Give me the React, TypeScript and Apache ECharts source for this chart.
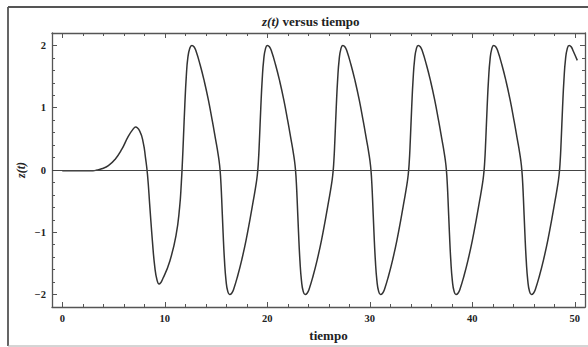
import React, { useEffect, useRef } from "react";
import * as echarts from "echarts";

// Time values (tiempo)
const tiempo: number[] = [
  0, 3.0, 3.4, 3.85, 4.5, 5.15, 5.8, 6.44, 6.93, 7.15, 7.57, 7.9, 8.12, 8.32, 8.55, 8.8, 9.03, 9.25, 9.45, 9.85,
  10.5, 11.1, 11.45, 11.62, 11.72, 11.82, 11.96, 12.1, 12.25, 12.45,
  12.65, 12.85, 13.05, 13.45, 13.85, 14.25, 14.65, 14.95, 15.2, 15.35, 15.45, 15.55, 15.69, 15.83, 15.98, 16.15,
  16.33, 16.53, 16.73, 17.13, 17.53, 17.93, 18.33, 18.63, 18.88, 19.03, 19.13, 19.23, 19.37, 19.51, 19.66, 19.83,
  20.01, 20.21, 20.41, 20.81, 21.21, 21.61, 22.01, 22.31, 22.56, 22.71, 22.81, 22.91, 23.05, 23.19, 23.34, 23.51,
  23.69, 23.89, 24.09, 24.49, 24.89, 25.29, 25.69, 25.99, 26.24, 26.39, 26.49, 26.59, 26.73, 26.87, 27.02, 27.19,
  27.37, 27.57, 27.77, 28.17, 28.57, 28.97, 29.37, 29.67, 29.92, 30.07, 30.17, 30.27, 30.41, 30.55, 30.7, 30.87,
  31.05, 31.25, 31.45, 31.85, 32.25, 32.65, 33.05, 33.35, 33.6, 33.75, 33.85, 33.95, 34.09, 34.23, 34.38, 34.55,
  34.73, 34.93, 35.13, 35.53, 35.93, 36.33, 36.73, 37.03, 37.28, 37.43, 37.53, 37.63, 37.77, 37.91, 38.06, 38.23,
  38.41, 38.61, 38.81, 39.21, 39.61, 40.01, 40.41, 40.71, 40.96, 41.11, 41.21, 41.31, 41.45, 41.59, 41.74, 41.91,
  42.09, 42.29, 42.49, 42.89, 43.29, 43.69, 44.09, 44.39, 44.64, 44.79, 44.89, 44.99, 45.13, 45.27, 45.42, 45.59,
  45.77, 45.97, 46.17, 46.57, 46.97, 47.37, 47.77, 48.07, 48.32, 48.47, 48.57, 48.67, 48.81, 48.95, 49.1, 49.27,
  49.45, 49.65, 49.85, 50.25,
];

// z(t) values
const zValores: number[] = [
  -0.012, -0.012, 0, 0.02, 0.07, 0.17, 0.33, 0.54, 0.66, 0.69, 0.62, 0.44, 0.2, -0.08, -0.6, -1.15, -1.56, -1.77, -1.83, -1.73,
  -1.46, -1.05, -0.6, -0.2, 0.12, 0.5, 1.05, 1.5, 1.8, 1.96,
  2.0, 1.98, 1.91, 1.69, 1.43, 1.13, 0.78, 0.5, 0.26, 0.08, -0.12, -0.45, -1.0, -1.46, -1.78, -1.95,
  -2.0, -1.98, -1.91, -1.69, -1.43, -1.13, -0.78, -0.5, -0.26, -0.08, 0.12, 0.45, 1.0, 1.46, 1.78, 1.95,
  2.0, 1.98, 1.91, 1.69, 1.43, 1.13, 0.78, 0.5, 0.26, 0.08, -0.12, -0.45, -1.0, -1.46, -1.78, -1.95,
  -2.0, -1.98, -1.91, -1.69, -1.43, -1.13, -0.78, -0.5, -0.26, -0.08, 0.12, 0.45, 1.0, 1.46, 1.78, 1.95,
  2.0, 1.98, 1.91, 1.69, 1.43, 1.13, 0.78, 0.5, 0.26, 0.08, -0.12, -0.45, -1.0, -1.46, -1.78, -1.95,
  -2.0, -1.98, -1.91, -1.69, -1.43, -1.13, -0.78, -0.5, -0.26, -0.08, 0.12, 0.45, 1.0, 1.46, 1.78, 1.95,
  2.0, 1.98, 1.91, 1.69, 1.43, 1.13, 0.78, 0.5, 0.26, 0.08, -0.12, -0.45, -1.0, -1.46, -1.78, -1.95,
  -2.0, -1.98, -1.91, -1.69, -1.43, -1.13, -0.78, -0.5, -0.26, -0.08, 0.12, 0.45, 1.0, 1.46, 1.78, 1.95,
  2.0, 1.98, 1.91, 1.69, 1.43, 1.13, 0.78, 0.5, 0.26, 0.08, -0.12, -0.45, -1.0, -1.46, -1.78, -1.95,
  -2.0, -1.98, -1.91, -1.69, -1.43, -1.13, -0.78, -0.5, -0.26, -0.08, 0.12, 0.45, 1.0, 1.46, 1.78, 1.95,
  2.0, 1.98, 1.91, 1.76,
];

const xTicks: number[] = [0, 10, 20, 30, 40, 50];
const yTicks: number[] = [-2, -1, 0, 1, 2];
const xRange: number[] = [-1, 51];
const yRange: number[] = [-2.2, 2.2];

const SERIF = "'Liberation Serif', 'DejaVu Serif', serif";
const FRAME = "#555";

function fmt(list: number[]) {
  return (v: number) => {
    const r = Math.round(v * 1000) / 1000;
    return list.includes(r) ? String(r).replace("-", "\u2212") : "";
  };
}

export default function App() {
  const ref = useRef<HTMLDivElement>(null);

  useEffect(() => {
    if (!ref.current) return;
    const chart = echarts.init(ref.current, null, { renderer: "svg" });
    const data = tiempo.map((t, i) => [t, zValores[i]]);

    const axisCommon = {
      type: "value" as const,
      axisLine: { onZero: false, lineStyle: { color: FRAME, width: 1.3 } },
      axisTick: { inside: true, length: 5, lineStyle: { color: FRAME, width: 1 } },
      minorTick: { show: true, splitNumber: 5, length: 3, lineStyle: { color: FRAME, width: 1 } },
      splitLine: { show: false },
    };

    chart.setOption({
      animation: false,
      backgroundColor: "#fff",
      title: {
        text: "{i|z(t)} versus tiempo",
        left: 262,
        top: 15,
        padding: 0,
        textStyle: {
          fontFamily: SERIF,
          fontWeight: "bold",
          fontSize: 13,
          color: "#222",
          rich: {
            i: { fontFamily: SERIF, fontStyle: "italic", fontWeight: "bold", fontSize: 13, color: "#222" },
          },
        },
      },
      grid: { left: 52, top: 33, right: 2, bottom: 38, containLabel: false },
      xAxis: [
        {
          ...axisCommon,
          position: "bottom",
          min: xRange[0],
          max: xRange[1],
          axisLabel: {
            formatter: fmt(xTicks),
            fontFamily: SERIF,
            fontWeight: "bold",
            fontSize: 10.5,
            color: "#222",
            margin: 6,
          },
          name: "tiempo",
          nameLocation: "middle",
          nameGap: 22,
          nameMoveOverlap: false,
          nameTextStyle: {
            fontFamily: SERIF,
            fontWeight: "bold",
            fontSize: 13,
            color: "#222",
            padding: [0, 0, 0, 20],
          },
        },
        {
          ...axisCommon,
          position: "top",
          min: xRange[0],
          max: xRange[1],
          axisLabel: { show: false },
        },
      ],
      yAxis: [
        {
          ...axisCommon,
          position: "left",
          min: yRange[0],
          max: yRange[1],
          axisLabel: {
            formatter: fmt(yTicks),
            fontFamily: SERIF,
            fontWeight: "bold",
            fontSize: 10.5,
            color: "#222",
            margin: 6,
          },
          name: "z(t)",
          nameLocation: "middle",
          nameGap: 25,
          nameMoveOverlap: false,
          nameRotate: 90,
          nameTextStyle: {
            fontFamily: SERIF,
            fontStyle: "italic",
            fontWeight: "bold",
            fontSize: 12,
            color: "#222",
          },
        },
        {
          ...axisCommon,
          position: "right",
          min: yRange[0],
          max: yRange[1],
          axisLabel: { show: false },
        },
      ],
      graphic: [
        {
          type: "line",
          silent: true,
          shape: { x1: 8, y1: 7, x2: 600, y2: 7 },
          style: { stroke: "#555", lineWidth: 1.8 },
        },
        {
          type: "line",
          silent: true,
          shape: { x1: 8, y1: 7, x2: 8, y2: 346 },
          style: { stroke: "#555", lineWidth: 1.8 },
        },
        {
          type: "line",
          silent: true,
          shape: { x1: 8, y1: 346, x2: 600, y2: 346 },
          style: { stroke: "#aaa", lineWidth: 1 },
        },
      ],
      series: [
        {
          type: "line",
          xAxisIndex: 0,
          yAxisIndex: 0,
          data,
          showSymbol: false,
          smooth: 0.5,
          lineStyle: { color: "#333", width: 1.5 },
          markLine: {
            silent: true,
            symbol: ["none", "none"],
            label: { show: false },
            lineStyle: { type: "solid", color: "#444", width: 1.1 },
            data: [{ yAxis: 0 }],
          },
        },
      ],
    });

    return () => chart.dispose();
  }, []);

  return (
    <div
      ref={ref}
      style={{ position: "absolute", left: 0, top: 0, width: 588, height: 347 }}
    />
  );
}
